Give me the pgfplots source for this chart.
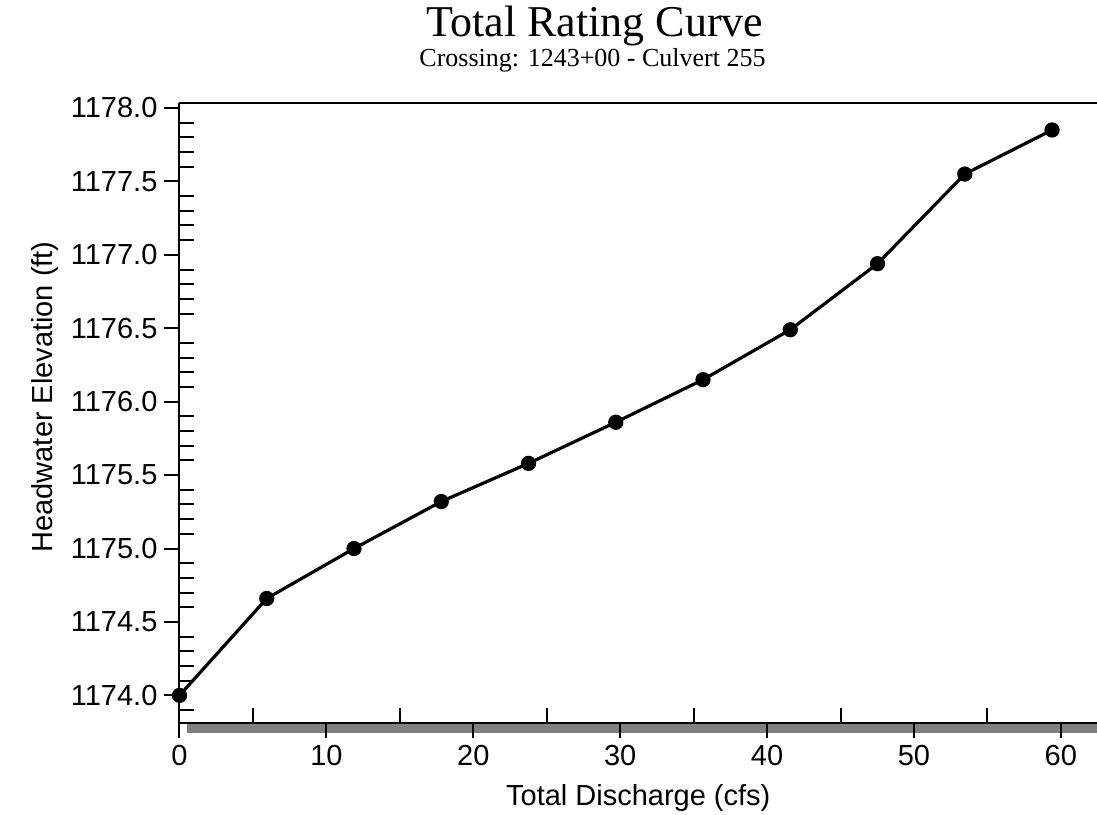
\documentclass[border=0pt]{standalone}
\usepackage{pgfplots}
\pgfplotsset{compat=1.18}
\usepackage{fontspec}
\setmainfont{Liberation Sans}
\newfontfamily\timesfont{Liberation Serif}

\begin{document}
\begin{tikzpicture}
% picture frame in px*0.5pt, origin at the lower left corner of the axis
\useasboundingbox (-89.75pt,-45.35pt) rectangle (458.75pt,361.65pt);
% grey bar under the x axis
\fill[gray] (3.75pt,-0.5pt) rectangle (458.75pt,-4.75pt);
\begin{axis}[
    at={(0pt,0pt)}, anchor=south west,
    width=458.75pt, height=310.3pt, scale only axis,
    xmin=0, xmax=62.46,
    ymin=1173.81, ymax=1178.036,
    axis x line=box, axis y line=left,
    axis line style={-, line width=1pt},
    xtick={0,10,20,30,40,50,60},
    minor xtick={5,15,25,35,45,55},
    ytick={1174.0,1174.5,1175.0,1175.5,1176.0,1176.5,1177.0,1177.5,1178.0},
    minor ytick={1173.9,1174.1,1174.2,1174.3,1174.4,1174.6,1174.7,1174.8,1174.9,
                 1175.1,1175.2,1175.3,1175.4,1175.6,1175.7,1175.8,1175.9,
                 1176.1,1176.2,1176.3,1176.4,1176.6,1176.7,1176.8,1176.9,
                 1177.1,1177.2,1177.3,1177.4,1177.6,1177.7,1177.8,1177.9},
    xtick pos=left, ytick pos=left,
    tick align=outside,
    major tick length=7.5pt, minor tick length=7.5pt,
    tick style={black, line width=1pt},
    minor x tick style={yshift=7.5pt},
    minor y tick style={xshift=7.5pt},
    scaled y ticks=false,
    ticklabel style={font=\fontsize{14.5}{17}\selectfont},
    xticklabel style={/pgf/number format/.cd, assume math mode=true, fixed, precision=0},
    yticklabel style={/pgf/number format/.cd, assume math mode=true, fixed, fixed zerofill, precision=1, 1000 sep={}},
    xlabel={Total Discharge (cfs)},
    ylabel={Headwater Elevation (ft)},
    label style={font=\fontsize{14.5}{17}\selectfont},
    xlabel style={at={(axis description cs:0.5,-0.1321)}, anchor=base},
    ylabel style={at={(axis description cs:-0.1466,0.526)}, anchor=center},
]
\addplot[black, line width=1.6pt, mark=*, mark size=3pt] coordinates {
    (0,1174.00) (5.94,1174.66) (11.88,1175.00) (17.82,1175.32) (23.76,1175.58)
    (29.70,1175.86) (35.64,1176.15) (41.58,1176.49) (47.52,1176.94)
    (53.46,1177.55) (59.40,1177.85)
};
\end{axis}
\node[font=\timesfont\fontsize{22}{26}\selectfont, anchor=base, inner sep=0pt] at (207.75pt,343.15pt) {Total Rating Curve};
\node[font=\timesfont\fontsize{13}{15}\selectfont, anchor=base, inner sep=0pt] at (206.5pt,328.15pt) {Crossing: 1243+00 - Culvert 255};
\end{tikzpicture}
\end{document}
